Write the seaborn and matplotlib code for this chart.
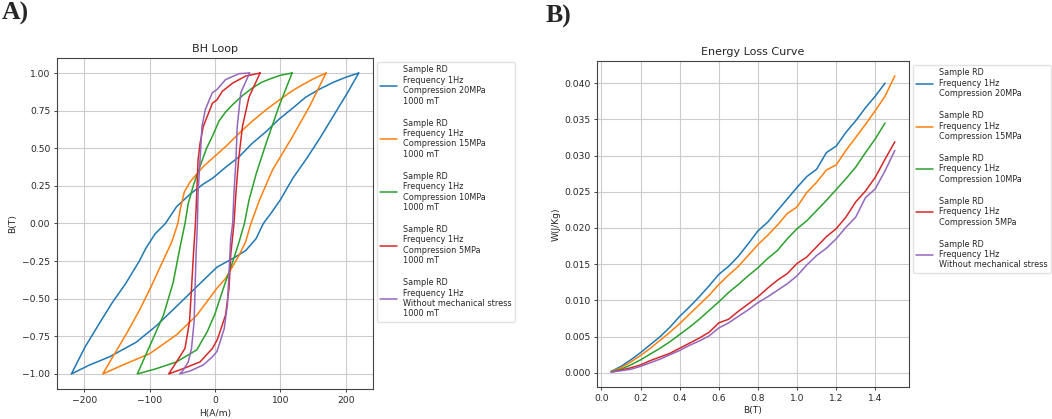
import numpy as np
import pandas as pd
import matplotlib
matplotlib.use("Agg")
import matplotlib.pyplot as plt
import seaborn as sns

# ---- BH loop data: each loop = descending branch then ascending branch ----
h_20 = [220, 201, 181, 160, 139, 119, 98, 78, 57, 37, 16, -4, -18, -38, -59, -76,
        -92, -106, -116, -137, -158, -178, -199, -220,
        -192, -162, -121, -90, -54, -28, 3, 27, 47, 63, 74, 86, 100, 119, 140, 161, 182, 203, 220]
b_20 = [1.0, 0.973, 0.938, 0.893, 0.84, 0.767, 0.693, 0.61, 0.533, 0.444, 0.373, 0.30, 0.262, 0.196, 0.111, 0.0,
        -0.07, -0.165, -0.25, -0.40, -0.53, -0.67, -0.82, -1.0,
        -0.94, -0.887, -0.79, -0.68, -0.53, -0.42, -0.29, -0.233, -0.18, -0.10, 0.0, 0.07, 0.157, 0.30, 0.43, 0.57, 0.72, 0.87, 1.0]

h_15 = [170, 150, 134, 119, 98, 78, 57, 37, 16, -4, -18, -38, -47, -53, -57, -66, -82, -98, -115, -134, -153, -172,
        -141, -100, -59, -28, 3, 16, 37, 47, 55, 68, 88, 119, 145, 170]
b_15 = [1.0, 0.96, 0.922, 0.884, 0.82, 0.755, 0.68, 0.60, 0.51, 0.433, 0.378, 0.278, 0.21, 0.1, 0.0, -0.12, -0.27, -0.42, -0.57, -0.72, -0.86, -1.0,
        -0.94, -0.865, -0.74, -0.61, -0.43, -0.366, -0.21, -0.12, 0.0, 0.155, 0.355, 0.58, 0.78, 1.0]

h_10 = [118, 100, 88, 72, 57, 42, 27, 16, 6, -4, -13, -23, -33, -41, -46, -54, -64, -79, -95, -119,
        -90, -59, -28, -12, 0, 6, 16, 27, 37, 45, 52, 63, 78, 98, 118]
b_10 = [1.0, 0.985, 0.967, 0.94, 0.90, 0.85, 0.79, 0.74, 0.68, 0.58, 0.5, 0.38, 0.256, 0.133, 0.0, -0.166, -0.39, -0.61, -0.765, -1.0,
        -0.965, -0.92, -0.84, -0.72, -0.6, -0.52, -0.39, -0.255, -0.12, 0.0, 0.155, 0.33, 0.53, 0.78, 1.0]

h_5 = [69, 47, 27, 11, 3, -4, -8, -18, -23, -26, -28, -30, -33, -36, -39, -46, -59, -71,
       -49, -23, -4, 3, 6, 16, 21.5, 24, 29, 32, 36, 42, 52, 69]
b_5 = [1.0, 0.98, 0.933, 0.878, 0.822, 0.80, 0.755, 0.645, 0.53, 0.42, 0.2, 0.0, -0.2, -0.43, -0.65, -0.83, -0.92, -1.0,
       -0.965, -0.92, -0.83, -0.776, -0.74, -0.61, -0.43, -0.21, 0.0, 0.2, 0.42, 0.645, 0.84, 1.0]

h_0 = [53, 37, 16, 3, -4, -8, -15, -20, -23, -26, -27, -29, -32, -36, -41, -49, -54,
       -38, -18, -4, 3, 6, 14, 19, 21.5, 24, 27, 29, 32, 34, 39.5, 53]
b_0 = [1.0, 0.996, 0.956, 0.89, 0.87, 0.83, 0.755, 0.645, 0.42, 0.2, 0.0, -0.2, -0.65, -0.83, -0.92, -0.976, -1.0,
       -0.98, -0.94, -0.886, -0.85, -0.81, -0.70, -0.54, -0.32, -0.1, 0.0, 0.2, 0.42, 0.645, 0.87, 1.0]

# ---- Energy loss data ----
b_steps = [0.05, 0.10, 0.15, 0.20, 0.25, 0.30, 0.35, 0.40, 0.45, 0.50,
           0.55, 0.60, 0.65, 0.70, 0.75, 0.80, 0.85, 0.90, 0.95, 1.00,
           1.05, 1.10, 1.15, 1.20, 1.25, 1.30, 1.35, 1.40, 1.45, 1.50]
w_20 = [0.0002, 0.0009, 0.0018, 0.0028, 0.0039, 0.0050, 0.0063, 0.0078, 0.0091, 0.0105,
        0.0120, 0.0136, 0.0147, 0.0161, 0.0178, 0.0196, 0.0208, 0.0224, 0.0240, 0.0256,
        0.0271, 0.0281, 0.0304, 0.0313, 0.0332, 0.0348, 0.0366, 0.0382, 0.0400]
w_15 = [0.0002, 0.0007, 0.0015, 0.0024, 0.0034, 0.0045, 0.0056, 0.0068, 0.0081, 0.0094,
        0.0107, 0.0122, 0.0135, 0.0147, 0.0162, 0.0177, 0.0190, 0.0204, 0.0220, 0.0229,
        0.0249, 0.0263, 0.0280, 0.0287, 0.0307, 0.0325, 0.0343, 0.0362, 0.0382, 0.0410]
w_10 = [0.0002, 0.0005, 0.0011, 0.0018, 0.0026, 0.0034, 0.0043, 0.0053, 0.0063, 0.0074,
        0.0086, 0.0098, 0.0111, 0.0122, 0.0134, 0.0145, 0.0158, 0.0169, 0.0185, 0.0199,
        0.0210, 0.0224, 0.0238, 0.0253, 0.0268, 0.0284, 0.0304, 0.0323, 0.0345]
w_5 = [0.0001, 0.0004, 0.0007, 0.0011, 0.0017, 0.0022, 0.0027, 0.0034, 0.0041, 0.0048,
       0.0056, 0.0069, 0.0074, 0.0085, 0.0095, 0.0105, 0.0117, 0.0128, 0.0137, 0.0151,
       0.0160, 0.0174, 0.0188, 0.0199, 0.0215, 0.0236, 0.0251, 0.0270, 0.0295, 0.0319]
w_0 = [0.0001, 0.0003, 0.0005, 0.0009, 0.0014, 0.0019, 0.0025, 0.0031, 0.0038, 0.0044,
       0.0051, 0.0062, 0.0069, 0.0078, 0.0087, 0.0097, 0.0105, 0.0114, 0.0123, 0.0134,
       0.0149, 0.0162, 0.0172, 0.0185, 0.0201, 0.0215, 0.0242, 0.0254, 0.0279, 0.0307]

stress = ["Compression 20MPa", "Compression 15MPa", "Compression 10MPa",
          "Compression 5MPa", "Without mechanical stress"]
colors = ["#1f77b4", "#ff7f0e", "#2ca02c", "#d62728", "#9467bd"]

bh_labels = [f"Sample RD\nFrequency 1Hz\n{s}\n1000 mT" for s in stress]
w_labels = [f"Sample RD\nFrequency 1Hz\n{s}" for s in stress]

loops = [(h_20, b_20), (h_15, b_15), (h_10, b_10), (h_5, b_5), (h_0, b_0)]
bh_df = pd.concat([pd.DataFrame({"H": h, "B": b, "label": lab})
                   for (h, b), lab in zip(loops, bh_labels)], ignore_index=True)
losses = [w_20, w_15, w_10, w_5, w_0]
w_df = pd.concat([pd.DataFrame({"B": b_steps[:len(w)], "W": w, "label": lab})
                  for w, lab in zip(losses, w_labels)], ignore_index=True)

sns.set_style("ticks")
plt.rcParams["font.family"] = ["DejaVu Sans"]

fig = plt.figure(figsize=(10.52, 4.19), dpi=100)
ax1 = fig.add_axes([0.0542, 0.0716, 0.3004, 0.790])
ax2 = fig.add_axes([0.5675, 0.0764, 0.2966, 0.778])

sns.lineplot(data=bh_df, x="H", y="B", hue="label", palette=colors, sort=False,
             estimator=None, units="label", lw=1.1, ax=ax1)
sns.lineplot(data=w_df, x="B", y="W", hue="label", palette=colors, sort=False,
             estimator=None, lw=1.1, ax=ax2)

ax1.set_title("BH Loop", fontsize=8, pad=4)
ax1.set_xlabel("H(A/m)", fontsize=6.6, labelpad=3)
ax1.set_ylabel("B(T)", fontsize=6.6, labelpad=4)
ax1.set_xticks([-200, -100, 0, 100, 200])
ax1.set_yticks([-1.0, -0.75, -0.5, -0.25, 0.0, 0.25, 0.5, 0.75, 1.0])

ax2.set_title("Energy Loss Curve", fontsize=8, pad=4)
ax2.set_xlabel("B(T)", fontsize=6.6, labelpad=2.5)
ax2.set_ylabel("W(J/Kg)", fontsize=6.6, labelpad=2)
ax2.set_xticks([0.0, 0.2, 0.4, 0.6, 0.8, 1.0, 1.2, 1.4])
ax2.set_yticks([0.0, 0.005, 0.010, 0.015, 0.020, 0.025, 0.030, 0.035, 0.040])

for ax in (ax1, ax2):
    ax.grid(True, color="#cccccc", lw=0.8)
    ax.tick_params(labelsize=6.6, length=2.3, width=0.6, pad=2.5)
    for sp in ax.spines.values():
        sp.set_visible(True)
        sp.set_color("#444444")
        sp.set_linewidth(0.8)
    ax.legend(loc="upper left", bbox_to_anchor=(1.0, 1.0), fontsize=5.85,
              labelspacing=1.6, handlelength=2.0, borderaxespad=0.5,
              frameon=True, edgecolor="#dddddd", fancybox=True)

fig.text(0.002, 1 - 20 / 419, "A)", fontfamily="Liberation Serif", fontweight="bold",
         fontsize=18.5, va="baseline")
fig.text(0.519, 1 - 23 / 419, "B)", fontfamily="Liberation Serif", fontweight="bold",
         fontsize=18.5, va="baseline")

fig.savefig("out.png", dpi=100)
